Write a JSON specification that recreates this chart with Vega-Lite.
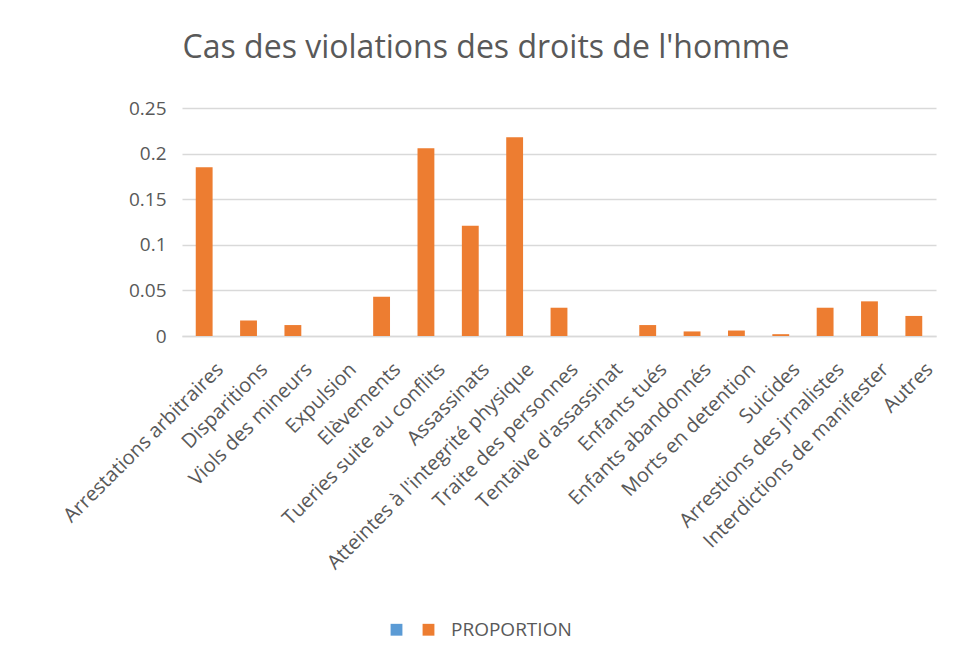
{
  "$schema": "https://vega.github.io/schema/vega-lite/v6.json",
  "autosize": "none",
  "width": 754,
  "height": 228,
  "padding": {"left": 182, "top": 108, "right": 18, "bottom": 326},
  "background": "white",
  "title": {
    "text": "Cas des violations des droits de l'homme",
    "font": "Open Sans",
    "fontSize": 32,
    "fontWeight": "normal",
    "color": "#595959",
    "anchor": "middle",
    "frame": "group",
    "dx": -73,
    "dy": 36,
    "baseline": "alphabetic",
    "offset": 45
  },
  "data": {
    "values": [
      {"categorie": "Arrestations arbitraires", "serie": "PROPORTION", "valeur": 0.185},
      {"categorie": "Disparitions", "serie": "PROPORTION", "valeur": 0.017},
      {"categorie": "Viols des mineurs", "serie": "PROPORTION", "valeur": 0.012},
      {"categorie": "Expulsion", "serie": "PROPORTION", "valeur": 0},
      {"categorie": "Elèvements", "serie": "PROPORTION", "valeur": 0.043},
      {"categorie": "Tueries suite au conflits", "serie": "PROPORTION", "valeur": 0.206},
      {"categorie": "Assassinats", "serie": "PROPORTION", "valeur": 0.121},
      {"categorie": "Atteintes à l'integrité physique", "serie": "PROPORTION", "valeur": 0.218},
      {"categorie": "Traite des personnes", "serie": "PROPORTION", "valeur": 0.031},
      {"categorie": "Tentaive d'assassinat", "serie": "PROPORTION", "valeur": 0},
      {"categorie": "Enfants tués", "serie": "PROPORTION", "valeur": 0.012},
      {"categorie": "Enfants abandonnés", "serie": "PROPORTION", "valeur": 0.005},
      {"categorie": "Morts en detention", "serie": "PROPORTION", "valeur": 0.006},
      {"categorie": "Suicides", "serie": "PROPORTION", "valeur": 0.002},
      {"categorie": "Arrestions des jrnalistes", "serie": "PROPORTION", "valeur": 0.031},
      {"categorie": "Interdictions de manifester", "serie": "PROPORTION", "valeur": 0.038},
      {"categorie": "Autres", "serie": "PROPORTION", "valeur": 0.022}
    ]
  },
  "mark": {"type": "bar"},
  "encoding": {
    "x": {
      "field": "categorie",
      "type": "nominal",
      "sort": null,
      "scale": {"paddingInner": 0.62, "paddingOuter": 0.31},
      "axis": {
        "title": null,
        "labelAngle": -45,
        "labelAlign": "right",
        "labelBaseline": "middle",
        "labelFont": "Open Sans",
        "labelFontSize": 20,
        "labelColor": "#595959",
        "labelPadding": 30,
        "labelOffset": 16,
        "labelLimit": 400,
        "labelOverlap": false,
        "ticks": false,
        "domain": true,
        "domainColor": "#d9d9d9",
        "domainWidth": 1.5
      }
    },
    "y": {
      "field": "valeur",
      "type": "quantitative",
      "scale": {"domain": [0, 0.25], "nice": false},
      "axis": {
        "title": null,
        "values": [0, 0.05, 0.1, 0.15, 0.2, 0.25],
        "format": ".2~f",
        "labelFont": "Open Sans",
        "labelFontSize": 19,
        "labelColor": "#595959",
        "labelPadding": 16,
        "ticks": false,
        "domain": false,
        "gridColor": "#d9d9d9",
        "gridWidth": 1.5
      }
    },
    "color": {
      "field": "serie",
      "type": "nominal",
      "scale": {"domain": [" ", "PROPORTION"], "range": ["#5b9bd5", "#ed7d31"]},
      "legend": {
        "title": null,
        "orient": "none",
        "direction": "horizontal",
        "legendX": 205,
        "legendY": 512,
        "symbolType": "square",
        "symbolSize": 140,
        "symbolStrokeWidth": 0,
        "symbolOpacity": 1,
        "labelFont": "Open Sans",
        "labelFontSize": 19,
        "labelColor": "#595959",
        "labelOffset": 13,
        "columnPadding": -4
      }
    }
  },
  "config": {
    "view": {"stroke": null}
  }
}
